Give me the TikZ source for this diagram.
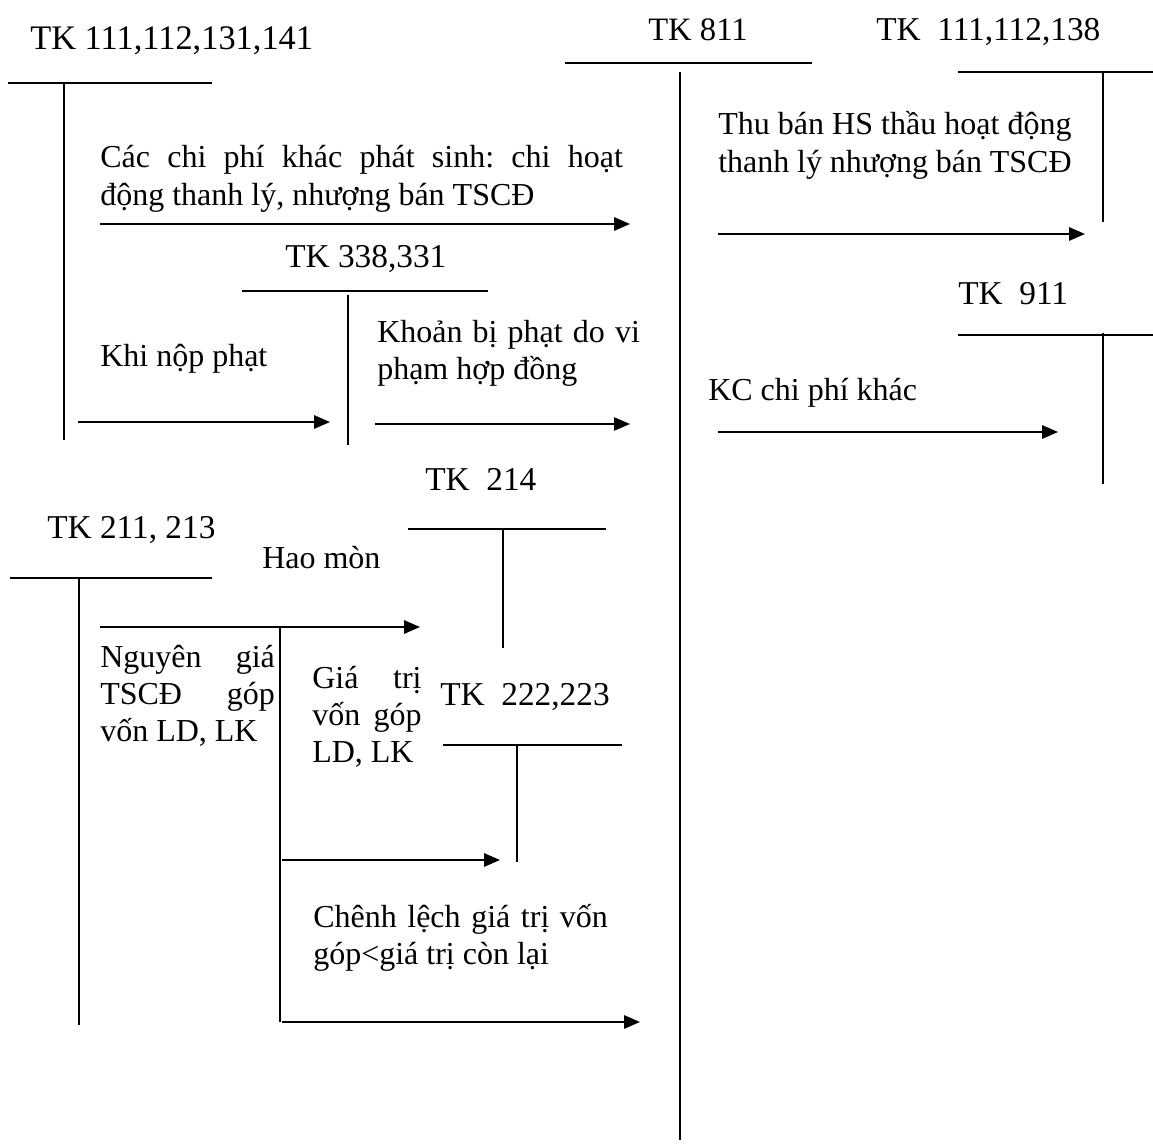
\documentclass[tikz,border=0pt]{standalone}
\usepackage{fontspec}
\setmainfont{Liberation Serif}
\usetikzlibrary{arrows.meta}
\tolerance=9999
\frenchspacing
\begin{document}
\begin{tikzpicture}[x=0.75pt,y=-0.75pt,
  acct/.style={line width=1.1pt},
  flow/.style={line width=1.5pt,-{Triangle[length=12pt,width=10pt]}},
  acctname/.style={anchor=base west,inner sep=0pt,font=\fontsize{25}{28}\selectfont},
  lbl/.style={anchor=base west,inner sep=0pt,font=\fontsize{24}{28}\selectfont},
  para/.style={anchor=base west,inner sep=0pt,align=justify,
    font=\fontsize{24}{28}\selectfont}]
\useasboundingbox[fill=white] (0,0) rectangle (1153,1148);

% ---- TK 111,112,131,141
\node[acctname,font=\fontsize{25.8}{28}\selectfont] (n1) at (30,50) {TK 111,112,131,141};
\coordinate (a1l) at (8,83);   \coordinate (a1r) at (212,83);
\coordinate (a1t) at (64,83);  \coordinate (a1b) at (64,440);
\draw[acct] (a1l) -- (a1r);
\draw[acct] (a1t) -- (a1b);
\node[para,text width=392pt] (t1) at (100,168)
  {Các chi phí khác phát sinh: chi hoạt\linebreak động thanh lý, nhượng bán TSCĐ};
\coordinate (f1s) at (100,224); \coordinate (f1e) at (630,224);
\draw[flow] (f1s) -- (f1e);

% ---- TK 338,331
\node[acctname] (n2) at (285,268) {TK 338,331};
\coordinate (a2l) at (242,291); \coordinate (a2r) at (488,291);
\coordinate (a2t) at (348,295); \coordinate (a2b) at (348,445);
\draw[acct] (a2l) -- (a2r);
\draw[acct] (a2t) -- (a2b);
\node[lbl] (t2) at (100,366) {Khi nộp phạt};
\coordinate (f2s) at (78,422); \coordinate (f2e) at (330,422);
\draw[flow] (f2s) -- (f2e);
\node[para,text width=197pt] (t3) at (377,342) {Khoản bị phạt do vi phạm hợp đồng};
\coordinate (f3s) at (375,424); \coordinate (f3e) at (630,424);
\draw[flow,line width=1.1pt] (f3s) -- (f3e);

% ---- TK 811
\node[acctname,font=\fontsize{24.5}{28}\selectfont] (n3) at (648,41) {TK 811};
\coordinate (a3l) at (565,63);  \coordinate (a3r) at (812,63);
\coordinate (a3t) at (680,72);  \coordinate (a3b) at (680,1140);
\draw[acct] (a3l) -- (a3r);
\draw[acct] (a3t) -- (a3b);

% ---- TK 111,112,138
\node[acctname] (n4) at (876,41) {TK~~111,112,138};
\coordinate (a4l) at (958,72);  \coordinate (a4r) at (1153,72);
\coordinate (a4t) at (1103,72); \coordinate (a4b) at (1103,222);
\draw[acct] (a4l) -- (a4r);
\draw[acct] (a4t) -- (a4b);
\node[para,text width=265pt] (t4) at (718,135)
  {Thu bán HS thầu hoạt động thanh lý nhượng bán TSCĐ};
\coordinate (f4s) at (718,234); \coordinate (f4e) at (1085,234);
\draw[flow] (f4s) -- (f4e);

% ---- TK 911
\node[acctname] (n5) at (958,305) {TK~~911};
\coordinate (a5l) at (958,335);  \coordinate (a5r) at (1153,335);
\coordinate (a5t) at (1103,333); \coordinate (a5b) at (1103,484);
\draw[acct] (a5l) -- (a5r);
\draw[acct] (a5t) -- (a5b);
\node[lbl] (t5) at (708,400) {KC chi phí khác};
\coordinate (f5s) at (718,432); \coordinate (f5e) at (1058,432);
\draw[flow] (f5s) -- (f5e);

% ---- TK 211, 213
\node[acctname] (n6) at (47,538) {TK 211, 213};
\coordinate (a6l) at (10,578);  \coordinate (a6r) at (212,578);
\coordinate (a6t) at (79,578);  \coordinate (a6b) at (79,1025);
\draw[acct] (a6l) -- (a6r);
\draw[acct] (a6t) -- (a6b);
\node[lbl] (t6) at (262,568) {Hao mòn};
\coordinate (f6s) at (100,627); \coordinate (f6e) at (420,627);
\draw[flow] (f6s) -- (f6e);
\coordinate (bt) at (280,627); \coordinate (bb) at (280,1022);
\draw[acct] (bt) -- (bb);
\node[para,text width=131pt] (t7) at (100,667) {Nguyên giá TSCĐ góp vốn LD, LK};
\node[para,text width=82pt] (t8) at (312,688) {Giá trị vốn góp LD, LK};

% ---- TK 214
\node[acctname] (n7) at (425,490) {TK~~214};
\coordinate (a7l) at (408,529); \coordinate (a7r) at (606,529);
\coordinate (a7t) at (503,529); \coordinate (a7b) at (503,648);
\draw[acct] (a7l) -- (a7r);
\draw[acct] (a7t) -- (a7b);

% ---- TK 222,223
\node[acctname] (n8) at (440,705) {TK~~222,223};
\coordinate (a8l) at (443,745); \coordinate (a8r) at (622,745);
\coordinate (a8t) at (517,745); \coordinate (a8b) at (517,862);
\draw[acct] (a8l) -- (a8r);
\draw[acct] (a8t) -- (a8b);
\coordinate (f7s) at (282,860); \coordinate (f7e) at (500,860);
\draw[flow] (f7s) -- (f7e);
\node[para,text width=221pt] (t9) at (313,927) {Chênh lệch giá trị vốn góp<giá trị còn lại};
\coordinate (f8s) at (282,1022); \coordinate (f8e) at (640,1022);
\draw[flow] (f8s) -- (f8e);
\end{tikzpicture}
\end{document}
